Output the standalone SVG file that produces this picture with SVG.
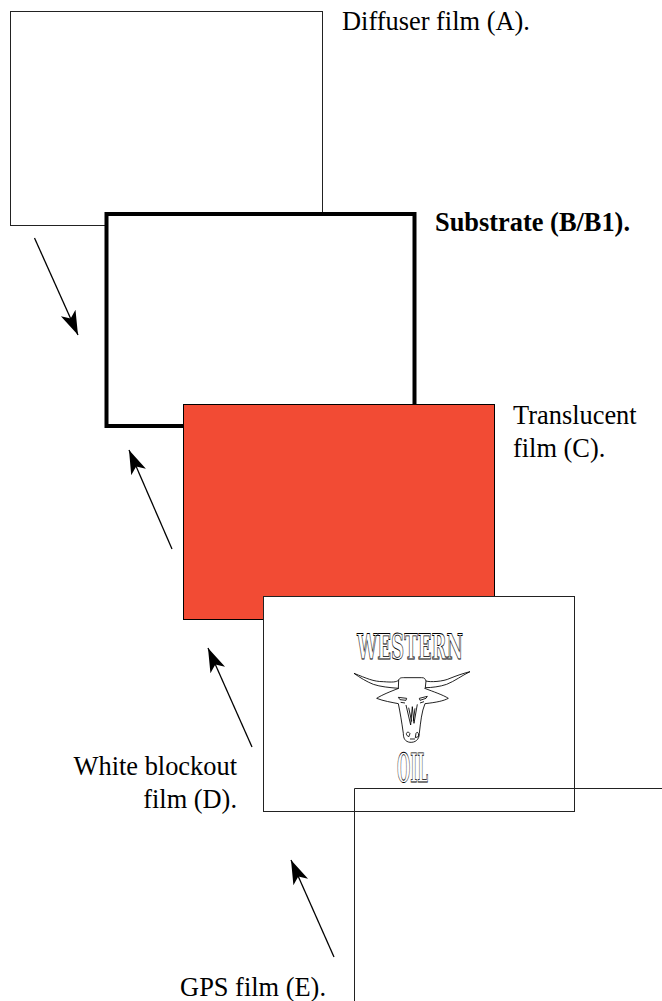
<svg xmlns="http://www.w3.org/2000/svg" width="662" height="1001" viewBox="0 0 662 1001">
<style>
.t{font-family:"Liberation Serif","Times New Roman",serif;font-size:26.400px;fill:#000}
.f{fill:#fff;stroke:#222;stroke-width:1}
.a{stroke:#000;stroke-width:1.300;fill:none;marker-end:url(#h)}
.l{font-family:"DejaVu Serif",serif;font-weight:bold;fill:#fff;stroke:#000;stroke-width:.9;text-rendering:geometricPrecision}
</style>
<defs><marker id="h" markerUnits="userSpaceOnUse" markerWidth="26" markerHeight="26" refX="24" refY="8" viewBox="0 0 26 16" orient="auto"><path d="M0 0L24 8L0 16L6 8Z" fill="#000"/></marker></defs>
<g id="film-a"><rect class="f" x="10.500" y="11.500" width="312" height="214"/><text class="t" x="342" y="30">Diffuser film (A).</text></g>
<g id="film-b"><rect x="106.500" y="214" width="308" height="212" fill="#fff" stroke="#000" stroke-width="4"/><text class="t" x="435" y="231" font-weight="bold">Substrate (B/B1).</text></g>
<g id="film-c"><rect x="183.500" y="404.500" width="311" height="215" fill="#f24b34" stroke="#000"/><text class="t" x="513" y="424">Translucent</text><text class="t" x="513" y="457">film (C).</text></g>
<g id="film-d"><rect class="f" x="263.500" y="596.500" width="311" height="215"/><text class="t" x="237" y="775" text-anchor="end">White blockout</text><text class="t" x="237" y="808" text-anchor="end">film (D).</text>
<g id="logo"><text class="l" x="357" y="659" font-size="35" textLength="106" lengthAdjust="spacingAndGlyphs">WESTERN</text><text class="l" x="397" y="782" font-size="40" textLength="31" lengthAdjust="spacingAndGlyphs">OIL</text>
<g transform="translate(350 665) scale(.3333)" fill="none" stroke="#000" stroke-width="2.600"><path d="M12 25C50 40 70 50 100 50C125 52 140 52 146 45C150 38 152 38 165 38L215 38C225 38 225 42 228 48C240 52 280 50 300 40C320 32 340 25 360 20C335 32 315 48 290 58C270 65 245 68 226 68L224 70C250 80 280 90 295 100C280 108 260 112 225 116C215 140 212 170 208 205C208 225 195 233 180 232C165 230 160 220 160 205C155 170 150 140 145 116C125 112 100 108 80 100C95 90 125 78 146 70C120 68 90 65 70 58C50 50 30 38 12 25Z"/><path d="M146 45L145 70M228 48L226 68"/><path d="M168 120L182 180L187 125L192 175L202 118M176 128L185 170M195 130L190 168M145 97L170 100L168 106L150 104ZM152 112L165 114M208 100L232 94L228 100L210 106ZM210 114L222 110M170 210C166 202 176 198 180 206L176 216ZM198 205C202 198 208 205 205 215L196 218ZM180 222L195 222"/></g></g></g>
<g id="film-e"><path d="M662 788.500H354.500V1001" fill="none" stroke="#222" stroke-width="1"/><text class="t" x="326" y="996" text-anchor="end">GPS film (E).</text></g>
<g id="connectors">
<path class="a" d="M34.500 238L78 335"/>
<path class="a" d="M172 549L129 450"/>
<path class="a" d="M252 747L208 648"/>
<path class="a" d="M334 957L291 860"/>
</g>
</svg>
